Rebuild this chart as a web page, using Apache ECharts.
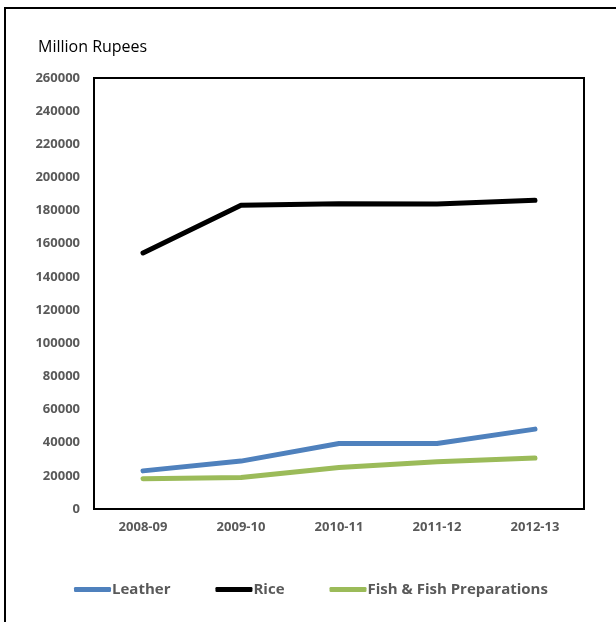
<!DOCTYPE html>
<html>
<head>
<meta charset="utf-8">
<script src="https://cdn.jsdelivr.net/npm/echarts@6/dist/echarts.min.js"></script>
<style>html,body{margin:0;padding:0;background:#fff}#c{width:616px;height:622px}</style>
</head>
<body>
<div id="c"></div>
<script>
const categories = ['2008-09', '2009-10', '2010-11', '2011-12', '2012-13'];
const leather = [23000, 28900, 39500, 39500, 48200];
const rice = [154500, 183300, 184200, 184000, 186200];
const fish = [18200, 19000, 25100, 28500, 30700];
const yTicks = { min: 0, max: 260000, interval: 20000 };

const chart = echarts.init(document.getElementById('c'), null, { renderer: 'canvas' });
const labelFont = { color: '#595959', fontWeight: 'bold', fontFamily: 'Open Sans', fontSize: 13 };
chart.setOption({
  animation: false,
  backgroundColor: '#fff',
  graphic: [
    { type: 'rect', shape: { x: 5, y: 8, width: 700, height: 700 }, style: { fill: 'none', stroke: '#000', lineWidth: 2 } },
    { type: 'text', left: 38, top: 39, style: { text: 'Million Rupees', fill: '#000', font: '16px "Open Sans"' } }
  ],
  grid: { left: 94, top: 78, right: 32, bottom: 113, show: true, borderColor: '#000', borderWidth: 2, backgroundColor: 'transparent' },
  legend: {
    left: 69, top: 577, itemGap: 45, itemWidth: 37, itemHeight: 5, icon: 'roundRect',
    textStyle: { color: '#595959', fontWeight: 'bold', fontFamily: 'Open Sans', fontSize: 15, padding: [0, 0, 0, -4] },
    data: ['Leather', 'Rice', 'Fish & Fish Preparations']
  },
  xAxis: {
    type: 'category', data: categories, boundaryGap: true,
    axisLine: { lineStyle: { color: '#000', width: 2 } },
    axisTick: { show: false },
    axisLabel: Object.assign({ margin: 12 }, labelFont)
  },
  yAxis: {
    type: 'value', min: yTicks.min, max: yTicks.max, interval: yTicks.interval,
    axisLine: { show: true, lineStyle: { color: '#000', width: 2 } },
    axisTick: { show: false },
    splitLine: { show: false },
    axisLabel: Object.assign({ margin: 14, formatter: v => String(v) }, labelFont)
  },
  series: [
    { name: 'Leather', type: 'line', data: leather, symbol: 'none', lineStyle: { color: '#4F81BD', width: 5, cap: 'round' }, itemStyle: { color: '#4F81BD' } },
    { name: 'Rice', type: 'line', data: rice, symbol: 'none', lineStyle: { color: '#000000', width: 5, cap: 'round' }, itemStyle: { color: '#000000' } },
    { name: 'Fish & Fish Preparations', type: 'line', data: fish, symbol: 'none', lineStyle: { color: '#9BBB59', width: 5, cap: 'round' }, itemStyle: { color: '#9BBB59' } }
  ]
});
</script>
</body>
</html>
